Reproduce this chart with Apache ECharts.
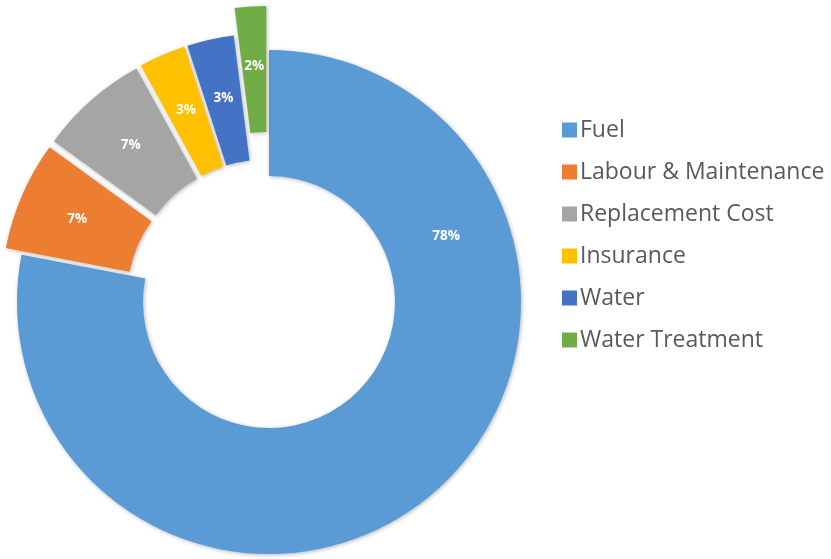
<!DOCTYPE html>
<html>
<head>
<meta charset="utf-8">
<script src="https://cdn.jsdelivr.net/npm/echarts@6/dist/echarts.min.js"></script>
<style>
  html, body { margin: 0; padding: 0; background: #fff; }
  #chart { width: 831px; height: 559px; }
</style>
</head>
<body>
<div id="chart"></div>
<script>
// cost breakdown, percent
var categories = ['Fuel', 'Labour & Maintenance', 'Replacement Cost', 'Insurance', 'Water', 'Water Treatment'];
var shares = [78, 7, 7, 3, 3, 2];
var colors = ['#5b9bd5', '#ed7d31', '#a5a5a5', '#ffc000', '#4472c4', '#70ad47'];

var cx = 269, cy = 302;
var rIn = 126, rOut = 252;

var dom = document.getElementById('chart');
var myChart = echarts.init(dom);

var hidden = { color: 'rgba(0,0,0,0)', borderWidth: 0, shadowBlur: 0 };
var shade = { shadowBlur: 4, shadowColor: 'rgba(0,0,0,0.28)', shadowOffsetX: 1, shadowOffsetY: 1 };

// main ring: everything except water treatment (drawn further out by second series)
var mainData = [];
for (var i = 0; i < categories.length; i++) {
    var last = i === categories.length - 1;
    mainData.push({
        name: categories[i],
        value: shares[i],
        selected: i > 0 && !last,
        itemStyle: last ? hidden : Object.assign({ color: colors[i] }, shade),
        label: { show: !last }
    });
}

var rest = 0;
for (var j = 0; j < shares.length - 1; j++) rest += shares[j];
var wtData = [
    { name: '_rest', value: rest, itemStyle: hidden, label: { show: false } },
    {
        name: categories[5],
        value: shares[5],
        selected: true,
        itemStyle: Object.assign({ color: colors[5] }, shade)
    }
];

var legendData = [];
for (var k = 0; k < categories.length; k++) {
    legendData.push({ name: categories[k], itemStyle: { color: colors[k] } });
}

var labelStyle = {
    show: true,
    position: 'inside',
    formatter: '{c}%',
    color: '#ffffff',
    fontFamily: 'Open Sans',
    fontWeight: 'bold',
    fontSize: 13.5
};

var option = {
    animation: false,
    legend: {
        orient: 'vertical',
        left: 557,
        top: 112,
        data: legendData,
        icon: 'rect',
        itemWidth: 15,
        itemHeight: 15,
        itemGap: 16,
        selectedMode: false,
        textStyle: {
            fontFamily: 'Open Sans',
            fontSize: 23,
            lineHeight: 26,
            color: '#595959',
            padding: [0, 0, 0, -2]
        }
    },
    series: [
        {
            name: 'cost',
            type: 'pie',
            center: [cx, cy],
            radius: [rIn, rOut],
            startAngle: 90,
            clockwise: true,
            selectedMode: 'multiple',
            selectedOffset: 17,
            avoidLabelOverlap: false,
            silent: true,
            label: labelStyle,
            labelLine: { show: false },
            labelLayout: function (params) {
                if (params.dataIndex !== 0) return;
                // Fuel label sits in the upper right part of its slice
                var a = 69.6 * Math.PI / 180, r = (rIn + rOut) / 2;
                return { x: cx + r * Math.sin(a), y: cy - r * Math.cos(a) };
            },
            data: mainData
        },
        {
            name: 'treatment',
            type: 'pie',
            center: [cx, cy],
            radius: [rIn, rOut],
            startAngle: 90,
            clockwise: true,
            selectedMode: 'multiple',
            selectedOffset: 44,
            avoidLabelOverlap: false,
            silent: true,
            label: labelStyle,
            labelLine: { show: false },
            data: wtData
        }
    ]
};
myChart.setOption(option, true);
</script>
</body>
</html>
